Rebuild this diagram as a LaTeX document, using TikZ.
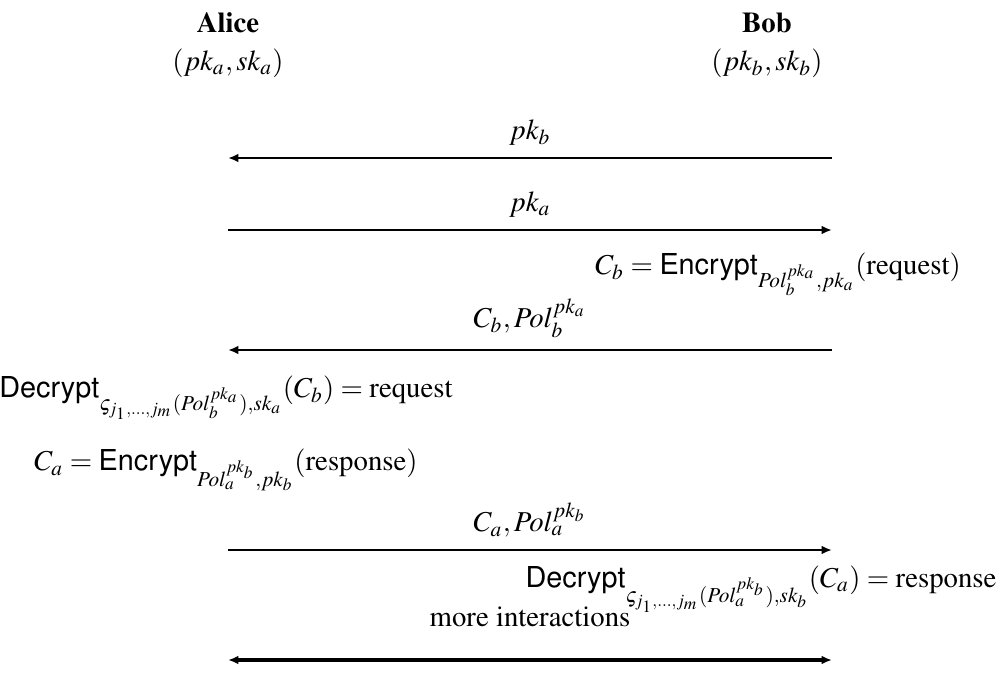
\documentclass[tikz,border=0pt]{standalone}
\usepackage[T1]{fontenc}
\usepackage{amsmath}
\usepackage{mathptmx}
\usepackage{helvet}
\usepackage{tikz}
\usetikzlibrary{arrows.meta,positioning}
\newcommand{\opEnc}{\textsf{Encrypt}}
\newcommand{\opDec}{\textsf{Decrypt}}

\begin{document}
\begin{tikzpicture}[
  x=0.3472pt, y=-0.3472pt,
  node distance=3pt and 1pt,
  party/.style={font=\bfseries, inner sep=1pt},
  keys/.style={inner sep=1pt},
  lbl/.style={above=3pt, inner sep=1pt},
  calc/.style={inner sep=1pt},
  msg/.style={-{Latex[length=3.6pt,width=3pt]}, line width=0.8pt},
  both/.style={{Latex[length=3.6pt,width=3pt]}-{Latex[length=3.6pt,width=3pt]}, line width=1.4pt},
]
  \useasboundingbox (0,0) rectangle (998,679);

  \node[party] (alice) at (228,23) {Alice};
  \node[keys, below=of alice] (alicekeys) {$(pk_a,sk_a)$};
  \node[party] (bob) at (767,23) {Bob};
  \node[keys, below=of bob] (bobkeys) {$(pk_b,sk_b)$};

  \coordinate (a1) at (228,158); \coordinate (b1) at (832,158);
  \coordinate (a2) at (228,230); \coordinate (b2) at (832,230);
  \coordinate (a3) at (228,350); \coordinate (b3) at (832,350);
  \coordinate (a4) at (228,550); \coordinate (b4) at (832,550);
  \coordinate (a5) at (228,660); \coordinate (b5) at (832,660);

  \node[calc] (bobenc) at (778,274)
    {$C_b = \opEnc_{Pol^{pk_a}_b,pk_a}(\text{request})$};
  \node[calc] (alicedec) at (226,398)
    {$\opDec_{\varsigma_{j_1,\ldots,j_m}(Pol^{pk_a}_b),sk_a}(C_b) = \text{request}$};
  \node[calc] (aliceenc) at (226,470)
    {$C_a = \opEnc_{Pol^{pk_b}_a,pk_b}(\text{response})$};
  \node[calc] (bobdec) at (761,589)
    {$\opDec_{\varsigma_{j_1,\ldots,j_m}(Pol^{pk_b}_a),sk_b}(C_a) = \text{response}$};

  \draw[msg] (b1) -- node[lbl] (m1) {$pk_b$} (a1);
  \draw[msg] (a2) -- node[lbl] (m2) {$pk_a$} (b2);
  \draw[msg] (b3) -- node[lbl] (m3) {$C_b,Pol^{pk_a}_b$} (a3);
  \draw[msg] (a4) -- node[lbl] (m4) {$C_a,Pol^{pk_b}_a$} (b4);
  \draw[both] (a5) -- node[lbl, above=10pt] (m5) {more interactions} (b5);
\end{tikzpicture}
\end{document}
